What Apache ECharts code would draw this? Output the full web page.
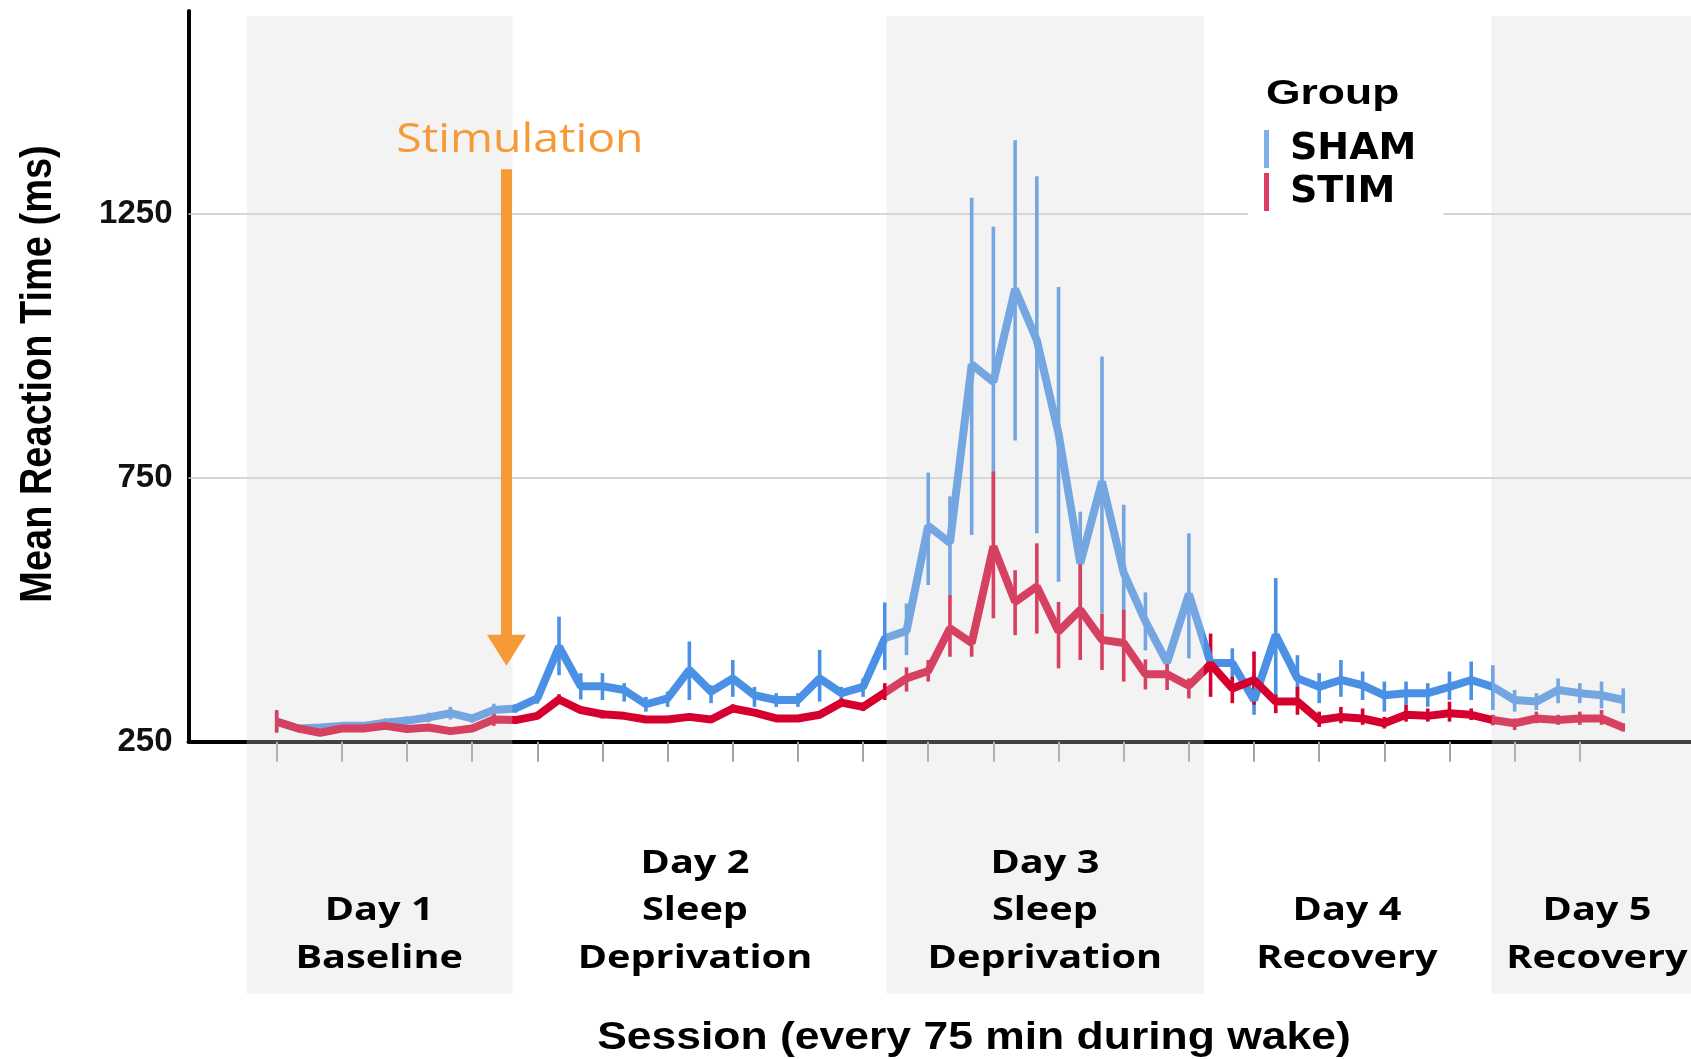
<!DOCTYPE html>
<html>
<head>
<meta charset="utf-8">
<title>Mean Reaction Time by Session</title>
<script src="https://cdn.jsdelivr.net/npm/echarts@6/dist/echarts.min.js"></script>
<style>
  html, body { margin: 0; padding: 0; background: #ffffff; }
  #chart { width: 1691px; height: 1059px; }
</style>
</head>
<body>
<div id="chart"></div>
<script>
// Test sessions, one every 75 min of wake time
const sessions = [1, 2, 3, 4, 5, 6, 7, 8, 9, 10, 11, 12, 13, 14, 15, 16, 17, 18, 19, 20,
  21, 22, 23, 24, 25, 26, 27, 28, 29, 30, 31, 32, 33, 34, 35, 36, 37, 38, 39, 40,
  41, 42, 43, 44, 45, 46, 47, 48, 49, 50, 51, 52, 53, 54, 55, 56, 57, 58, 59, 60,
  61, 62, 63];
const tickSessions = [1, 4, 7, 10, 13, 16, 19, 22, 25, 28, 31, 34, 37, 40, 43, 46, 49, 52, 55, 58, 61];
const yTicks = [250, 750, 1250];
const gridValues = [750, 1250];

// SHAM group: mean reaction time (ms) with error-bar bounds
const shamMean = [288, 275, 277, 280, 280, 286, 290, 296, 304, 294,
  310, 313, 332, 430, 355, 355, 348, 321, 332, 386,
  345, 370, 338, 329, 329, 370, 342, 354, 446, 460,
  659, 627, 965, 932, 1108, 1011, 834, 588, 743, 570,
  478, 400, 530, 399, 399, 329, 452, 370, 354, 367,
  357, 338, 342, 342, 354, 367, 354, 329, 326, 348,
  342, 338, 329];
const shamLow = [270, 269, 271, 274, 274, 278, 282, 287, 292, 286,
  298, 305, 322, 376, 330, 329, 326, 307, 316, 329,
  323, 335, 316, 316, 316, 326, 329, 335, 386, 414,
  547, 528, 642, 632, 821, 645, 553, 500, 494, 445,
  423, 364, 408, 385, 370, 301, 335, 323, 323, 335,
  329, 307, 320, 316, 329, 329, 310, 307, 310, 323,
  323, 313, 304];
const shamHigh = [306, 281, 283, 286, 286, 294, 298, 305, 316, 302,
  322, 321, 342, 487, 380, 380, 361, 335, 345, 440,
  357, 405, 354, 342, 342, 424, 354, 370, 514, 512,
  760, 715, 1281, 1226, 1390, 1322, 1112, 686, 980, 699,
  533, 411, 645, 413, 427, 380, 560, 414, 380, 405,
  383, 364, 364, 361, 383, 402, 395, 348, 342, 370,
  361, 364, 351];

// STIM group: mean reaction time (ms) with error-bar bounds
const stimMean = [288, 275, 267, 275, 275, 280, 274, 277, 270, 275,
  292, 291, 299, 330, 310, 302, 299, 292, 292, 297,
  292, 313, 305, 294, 294, 301, 324, 316, 343, 370,
  384, 465, 437, 620, 515, 544, 459, 500, 443, 437,
  378, 378, 356, 397, 351, 367, 326, 326, 291, 297,
  294, 285, 301, 299, 304, 301, 291, 285, 294, 291,
  294, 294, 277];
const stimLow = [267, 269, 261, 269, 269, 274, 268, 271, 264, 269,
  280, 285, 293, 321, 304, 294, 293, 286, 286, 291,
  286, 305, 299, 288, 288, 295, 316, 308, 329, 345,
  364, 411, 411, 484, 452, 455, 389, 405, 386, 364,
  349, 348, 332, 335, 323, 320, 304, 301, 278, 285,
  282, 275, 288, 288, 288, 291, 281, 272, 285, 282,
  282, 282, 269];
const stimHigh = [310, 281, 273, 281, 281, 286, 280, 283, 276, 281,
  304, 297, 305, 340, 316, 310, 305, 298, 298, 303,
  298, 321, 311, 300, 300, 307, 332, 324, 361, 391,
  405, 528, 460, 762, 575, 626, 515, 594, 493, 500,
  406, 408, 370, 455, 373, 421, 339, 354, 307, 316,
  313, 297, 320, 313, 326, 313, 301, 294, 307, 301,
  307, 310, 285];

// Shaded day blocks (session units) and day captions
const bandStart = [-0.38, 29.08, 56.94];
const bandEnd = [11.85, 43.69, 66.12];
const dayCenters = [5.72, 20.26, 36.37, 50.28, 61.79];
const dayLines = [
  ['Day 1', 'Baseline'],
  ['Day 2', 'Sleep', 'Deprivation'],
  ['Day 3', 'Sleep', 'Deprivation'],
  ['Day 4', 'Recovery'],
  ['Day 5', 'Recovery']
];

// Stimulation onset marker: session, arrow top (ms), arrow tip (ms)
const stimulationMarker = [11.58, 1335, 394];

const SHAM_COLOR = '#4a91e5';
const STIM_COLOR = '#d6002f';
const ORANGE = '#f59a36';
const BAND_FILL = 'rgba(214,214,214,0.3)';

const chart = echarts.init(document.getElementById('chart'), null, { renderer: 'canvas' });

function errorBars(color) {
  return function (params, api) {
    const x = api.value(0);
    const lo = api.coord([x, api.value(1)]);
    const hi = api.coord([x, api.value(2)]);
    return {
      type: 'line',
      shape: { x1: lo[0], y1: lo[1], x2: hi[0], y2: hi[1] },
      style: { stroke: color, lineWidth: 3.6 }
    };
  };
}

const option = {
  backgroundColor: '#ffffff',
  animation: false,
  grid: { left: 188.5, right: 0, top: 11, bottom: 317.3, containLabel: false },
  xAxis: {
    type: 'value',
    min: -3.06,
    max: 66.12,
    axisLine: { show: true, onZero: false, lineStyle: { color: '#000', width: 4 } },
    axisTick: { show: true, customValues: tickSessions, length: 20, lineStyle: { color: '#a3a3a3', width: 2 } },
    axisLabel: { show: false },
    splitLine: { show: false }
  },
  yAxis: {
    type: 'value',
    min: 250,
    max: 1635,
    axisLine: { show: true, onZero: false, lineStyle: { color: '#000', width: 4 } },
    axisTick: { show: false },
    axisLabel: {
      customValues: yTicks,
      formatter: function (v) { return String(v); },
      color: '#111',
      fontFamily: 'Liberation Sans',
      fontWeight: 'bold',
      fontSize: 33,
      margin: 16,
      padding: [18, 0, 0, 0]
    },
    splitLine: { show: false }
  },
  legend: {
    orient: 'vertical',
    left: 1248,
    top: 62,
    padding: [68, 27, 10, 16],
    backgroundColor: '#ffffff',
    itemWidth: 5,
    itemHeight: 38,
    itemGap: 5,
    icon: 'rect',
    selectedMode: false,
    textStyle: { fontFamily: 'DejaVu Sans', fontWeight: 'bold', fontSize: 38, color: '#000', padding: [0, 0, 0, 16] },
    data: [
      { name: 'SHAM', itemStyle: { color: '#7fb0ea' } },
      { name: 'STIM', itemStyle: { color: '#dc3c62' } }
    ]
  },
  graphic: [
    {
      type: 'text', z: 100, x: 1266, y: 94, scaleX: 1.27,
      style: { text: 'Group', x: 0, y: 0, align: 'left', verticalAlign: 'middle', fill: '#000',
        fontFamily: 'Liberation Sans', fontWeight: 'bold', fontSize: 35 }
    },
    {
      type: 'text', z: 100, x: 39, y: 374, rotation: Math.PI / 2, scaleY: 1.18,
      style: { text: 'Mean Reaction Time (ms)', x: 0, y: 0, align: 'center', verticalAlign: 'middle', fill: '#000',
        fontFamily: 'Liberation Sans', fontWeight: 'bold', fontSize: 38 }
    },
    {
      type: 'text', z: 100, x: 974, y: 1038, scaleX: 1.14,
      style: { text: 'Session (every 75 min during wake)', x: 0, y: 0, align: 'center', verticalAlign: 'middle', fill: '#000',
        fontFamily: 'Liberation Sans', fontWeight: 'bold', fontSize: 39 }
    }
  ],
  series: [
    {
      name: 'grid lines',
      type: 'custom',
      z: 1,
      silent: true,
      encode: { x: 0, y: 1 },
      data: gridValues.map(function (v) { return [0, v]; }),
      renderItem: function (params, api) {
        const cs = params.coordSys;
        const y = api.coord([0, api.value(1)])[1];
        return {
          type: 'line',
          shape: { x1: cs.x, y1: y, x2: cs.x + cs.width, y2: y },
          style: { stroke: '#c9c9c9', lineWidth: 1.5 }
        };
      }
    },
    {
      name: 'SHAM',
      type: 'line',
      z: 2,
      showSymbol: false,
      symbol: 'none',
      color: SHAM_COLOR,
      lineStyle: { color: SHAM_COLOR, width: 8 },
      data: sessions.map(function (s, i) { return [s, shamMean[i]]; })
    },
    {
      name: 'SHAM error',
      type: 'custom',
      z: 2,
      silent: true,
      encode: { x: 0, y: [1, 2] },
      data: sessions.map(function (s, i) { return [s, shamLow[i], shamHigh[i]]; }),
      renderItem: errorBars(SHAM_COLOR)
    },
    {
      name: 'STIM',
      type: 'line',
      z: 2,
      showSymbol: false,
      symbol: 'none',
      color: STIM_COLOR,
      lineStyle: { color: STIM_COLOR, width: 8 },
      data: sessions.map(function (s, i) { return [s, stimMean[i]]; })
    },
    {
      name: 'STIM error',
      type: 'custom',
      z: 2,
      silent: true,
      encode: { x: 0, y: [1, 2] },
      data: sessions.map(function (s, i) { return [s, stimLow[i], stimHigh[i]]; }),
      renderItem: errorBars(STIM_COLOR)
    },
    {
      name: 'day blocks',
      type: 'custom',
      z: 5,
      silent: true,
      encode: { x: [0, 1] },
      data: bandStart.map(function (s, i) { return [s, bandEnd[i]]; }),
      renderItem: function (params, api) {
        const cs = params.coordSys;
        const x0 = api.coord([api.value(0), 250])[0];
        const x1 = Math.min(api.coord([api.value(1), 250])[0], cs.x + cs.width);
        const top = cs.y + 5;
        const bottom = cs.y + cs.height + 252;
        return {
          type: 'rect',
          shape: { x: x0, y: top, width: x1 - x0, height: bottom - top },
          style: { fill: BAND_FILL }
        };
      }
    },
    {
      name: 'day captions',
      type: 'custom',
      z: 6,
      silent: true,
      encode: { x: 0 },
      data: dayCenters.map(function (c) { return [c]; }),
      renderItem: function (params, api) {
        const cs = params.coordSys;
        const lines = dayLines[params.dataIndex];
        const cx = api.coord([api.value(0), 250])[0];
        const lastY = cs.y + cs.height + 217;
        return {
          type: 'group',
          children: lines.map(function (t, k) {
            return {
              type: 'text',
              x: cx,
              y: lastY - (lines.length - 1 - k) * 47.4,
              scaleX: 1.24,
              style: { text: t, x: 0, y: 0, align: 'center', verticalAlign: 'middle', fill: '#000',
                fontFamily: 'Open Sans', fontWeight: 'bold', fontSize: 32 }
            };
          })
        };
      }
    },
    {
      name: 'stimulation onset',
      type: 'custom',
      z: 7,
      silent: true,
      encode: { x: 0, y: [1, 2] },
      data: [stimulationMarker],
      renderItem: function (params, api) {
        const top = api.coord([api.value(0), api.value(1)]);
        const tip = api.coord([api.value(0), api.value(2)]);
        const headH = 31, headW = 39, shaftW = 11;
        return {
          type: 'group',
          children: [
            {
              type: 'rect',
              shape: { x: top[0] - shaftW / 2, y: top[1], width: shaftW, height: tip[1] - headH - top[1] + 1 },
              style: { fill: ORANGE }
            },
            {
              type: 'polygon',
              shape: { points: [[tip[0] - headW / 2, tip[1] - headH], [tip[0] + headW / 2, tip[1] - headH], [tip[0], tip[1]]] },
              style: { fill: ORANGE }
            },
            {
              type: 'text',
              x: top[0] + 13.5,
              y: top[1] - 29,
              scaleX: 1.16,
              style: { text: 'Stimulation', x: 0, y: 0, align: 'center', verticalAlign: 'middle', fill: ORANGE,
                fontFamily: 'Open Sans', fontWeight: 'normal', fontSize: 40 }
            }
          ]
        };
      }
    }
  ]
};

chart.setOption(option);
</script>
</body>
</html>
